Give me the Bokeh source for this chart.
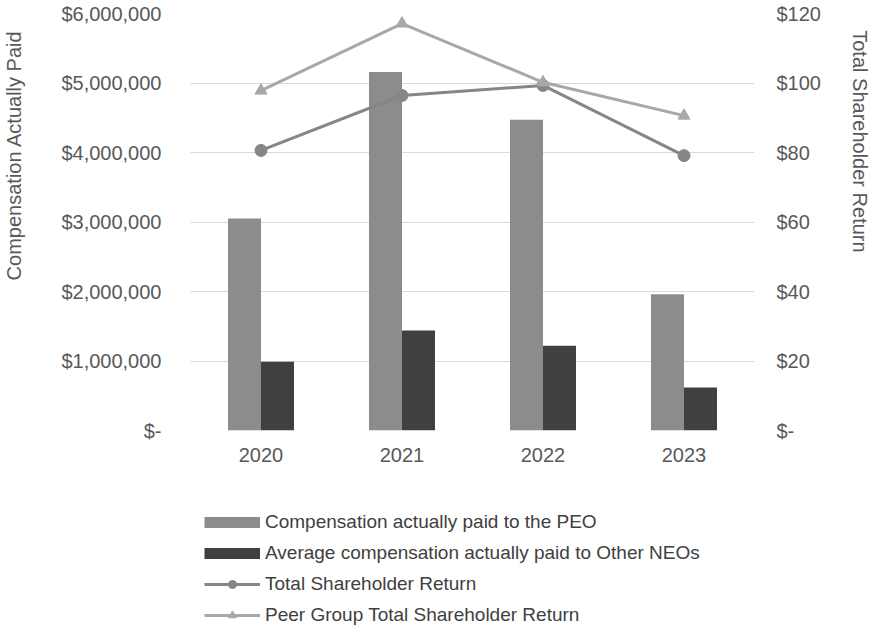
from bokeh.plotting import figure
from bokeh.layouts import column
from bokeh.models import (FactorRange, Range1d, LinearAxis, FixedTicker, Legend, LegendItem,
                          ColumnDataSource)
from bokeh.transform import dodge
from bokeh.embed import file_html
from bokeh.resources import INLINE

# ---- data ----
years = ["2020", "2021", "2022", "2023"]
peo_cap = [3050000, 5160000, 4470000, 1960000]
neo_cap = [990000, 1440000, 1220000, 620000]
tsr = [80.6, 96.4, 99.3, 79.1]
peer_tsr = [97.8, 117.1, 100.2, 90.6]

left_ticks = [0, 1000000, 2000000, 3000000, 4000000, 5000000, 6000000]
left_labels = ["$-", "$1,000,000", "$2,000,000", "$3,000,000", "$4,000,000", "$5,000,000", "$6,000,000"]
right_ticks = [0, 20, 40, 60, 80, 100, 120]
right_labels = ["$-", "$20", "$40", "$60", "$80", "$100", "$120"]

left_title = "Compensation Actually Paid"
right_title = "Total Shareholder Return"
series_names = ["Compensation actually paid to the PEO",
                "Average compensation actually paid to Other NEOs",
                "Total Shareholder Return",
                "Peer Group Total Shareholder Return"]

FONT = "Liberation Sans"
TICK_COLOR = "#595959"
PEO_COLOR = "#8c8c8c"
NEO_COLOR = "#404040"
TSR_COLOR = "#868686"
PEER_COLOR = "#a8a8a8"
NBSP = "\u00a0"

src = ColumnDataSource(dict(years=years, peo=peo_cap, neo=neo_cap, tsr=tsr, peer=peer_tsr))

p = figure(width=873, height=470, x_range=FactorRange(*years), y_range=Range1d(0, 6000000),
           output_backend="svg", toolbar_location=None,
           min_border_left=190, min_border_right=117, min_border_top=13, min_border_bottom=40)
p.extra_y_ranges = {"tsr": Range1d(0, 120)}
p.outline_line_color = None
p.background_fill_color = "white"
p.border_fill_color = "white"

bw = 0.234
p.vbar(x=dodge("years", -bw / 2, range=p.x_range), top="peo", width=bw, source=src,
       fill_color=PEO_COLOR, line_color=None)
p.vbar(x=dodge("years", bw / 2, range=p.x_range), top="neo", width=bw, source=src,
       fill_color=NEO_COLOR, line_color=None)

p.line("years", "tsr", source=src, y_range_name="tsr", line_color=TSR_COLOR, line_width=3)
p.scatter("years", "tsr", source=src, y_range_name="tsr", marker="circle", size=12,
          fill_color=TSR_COLOR, line_color=TSR_COLOR)
p.line("years", "peer", source=src, y_range_name="tsr", line_color=PEER_COLOR, line_width=3)
p.scatter("years", "peer", source=src, y_range_name="tsr", marker="triangle", size=12,
          fill_color=PEER_COLOR, line_color=PEER_COLOR)

# axes
yl = p.yaxis[0]
yl.ticker = FixedTicker(ticks=left_ticks)
yl.major_label_overrides = {t: s for t, s in zip(left_ticks, left_labels)}
# non-breaking padding moves the title toward the top, as in the reference
yl.axis_label = NBSP * 24 + left_title

yr = LinearAxis(y_range_name="tsr", ticker=FixedTicker(ticks=right_ticks),
                axis_label=right_title + NBSP * 29)
yr.major_label_overrides = {t: s for t, s in zip(right_ticks, right_labels)}
p.add_layout(yr, "right")

for ax in [yl, yr, p.xaxis[0]]:
    ax.axis_line_color = None
    ax.major_tick_line_color = None
    ax.minor_tick_line_color = None
    ax.major_label_text_font = FONT
    ax.major_label_text_font_size = "20px"
    ax.major_label_text_color = TICK_COLOR
    ax.axis_label_text_font = FONT
    ax.axis_label_text_font_size = "20px"
    ax.axis_label_text_font_style = "normal"
    ax.axis_label_text_color = TICK_COLOR

yl.major_label_standoff = 23
yl.axis_label_standoff = 33
yr.major_label_standoff = 16
yr.axis_label_standoff = 25
p.xaxis[0].major_label_standoff = 11

p.xgrid.grid_line_color = None
p.ygrid.grid_line_color = "#d9d9d9"
p.ygrid.grid_line_width = 1
p.ygrid.ticker = FixedTicker(ticks=left_ticks)

# ---- legend panel (separate figure below the chart) ----
q = figure(width=873, height=172, output_backend="svg", toolbar_location=None,
           x_range=Range1d(0, 1), y_range=Range1d(0, 1),
           x_axis_location=None, y_axis_location=None,
           min_border_left=0, min_border_right=0, min_border_top=0, min_border_bottom=0)
q.outline_line_color = None
q.xgrid.grid_line_color = None
q.ygrid.grid_line_color = None
q.border_fill_color = "white"

# legend-only proxies, placed outside the visible range
px, py = [-5], [-5]
proxy_peo = q.line(px, py, line_color=PEO_COLOR, line_width=11, line_cap="butt")
proxy_neo = q.line(px, py, line_color=NEO_COLOR, line_width=11, line_cap="butt")
pl_tsr = q.line(px, py, line_color=TSR_COLOR, line_width=3)
pm_tsr = q.scatter(px, py, marker="circle", size=12, fill_color=TSR_COLOR, line_color=TSR_COLOR)
pl_peer = q.line(px, py, line_color=PEER_COLOR, line_width=3)
pm_peer = q.scatter(px, py, marker="triangle", size=12, fill_color=PEER_COLOR, line_color=PEER_COLOR)

legend = Legend(items=[
    LegendItem(label=series_names[0], renderers=[proxy_peo]),
    LegendItem(label=series_names[1], renderers=[proxy_neo]),
    LegendItem(label=series_names[2], renderers=[pl_tsr, pm_tsr]),
    LegendItem(label=series_names[3], renderers=[pl_peer, pm_peer]),
], location=(14, 16), orientation="vertical")
legend.margin = 0
legend.padding = 0
legend.spacing = 9
legend.glyph_width = 56
legend.glyph_height = 20
legend.label_height = 20
legend.label_standoff = 5
legend.label_text_font = FONT
legend.label_text_font_size = "19px"
legend.label_text_color = "#404040"
legend.border_line_color = None
legend.background_fill_alpha = 0
q.add_layout(legend, "center")

open("out.html", "w").write(file_html(column(p, q), INLINE))
